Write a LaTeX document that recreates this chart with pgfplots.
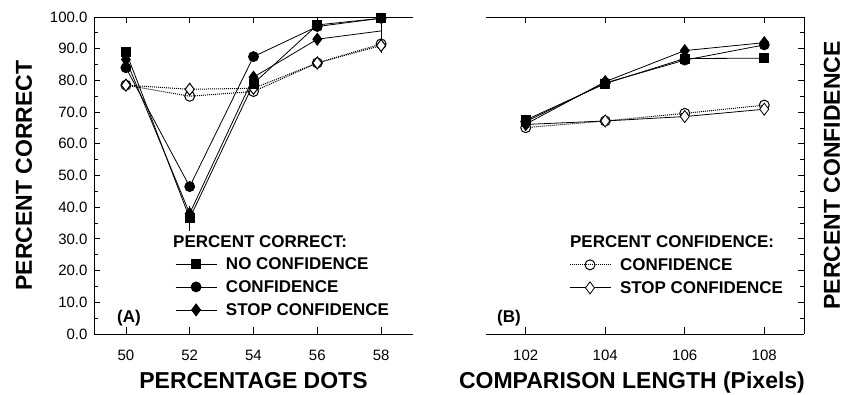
\documentclass[border=0pt]{standalone}
\usepackage{fontspec}
\setmainfont{Liberation Sans}
\usepackage{pgfplots}
\pgfplotsset{compat=1.18}
\begin{document}
\begin{tikzpicture}
\useasboundingbox (0pt,0pt) rectangle (849pt,395pt);
\pgfplotsset{
  common/.style={
    scale only axis, height=317pt,
    ymin=0, ymax=100,
    ytick={0,10,...,100}, minor y tick num=1,
    tick align=inside,
    major tick length=6.5pt, minor tick length=4pt,
    every tick/.style={black, line width=0.8pt},
    axis line style={line width=0.9pt, -},
    x axis line style={-}, y axis line style={-},
    every tick label/.append style={font=\fontsize{15}{15}\selectfont},
    /pgf/number format/assume math mode=true,
    xticklabel style={yshift=-12.5pt},
    label style={font=\bfseries\fontsize{23}{23}\selectfont},
    legend cell align=left,
    legend image code/.code={\draw[mark repeat=2,mark phase=2,##1] plot coordinates {(0pt,0pt)(20.5pt,0pt)(41pt,0pt)};},
    legend style={draw=none, fill=none, inner sep=0pt, outer sep=0pt,
      row sep=11pt, column sep=9pt,
      font=\bfseries\fontsize{17}{17}\selectfont,
      nodes={inner sep=0pt, text height=12pt, text depth=0pt}},
  },
  fs/.style={black, line width=0.8pt, solid, mark options={solid, fill=black}},
  os/.style={black, line width=0.8pt, mark options={solid, fill=white}},
  dots/.style={line width=1pt, dash pattern=on 1pt off 1pt},
}
% ---------------- Panel A ----------------
\begin{axis}[common, at={(94pt,61pt)}, anchor=south west, width=319pt,
  xmin=49, xmax=59, xtick={50,52,...,58},
  axis x line*=box, axis y line*=left,
  yticklabel style={xshift=-3pt, /pgf/number format/.cd, fixed, fixed zerofill, precision=1},
  xlabel={PERCENTAGE DOTS},
  xlabel style={at={(axis description cs:0.5,-0.1735)}, anchor=base},
  ylabel={PERCENT CORRECT},
  ylabel style={at={(axis description cs:-0.1944,0.5)}, anchor=base},
  legend style={at={(rel axis cs:0.2545,0.240)}, anchor=north west},
]
\addplot[os, dots, mark=o, mark size=5pt, forget plot,
  error bars/.cd, y dir=both, y explicit, error mark=none,
  error bar style={solid, line width=0.8pt}]
  coordinates {(50,78.5) +- (0,0) (52,75) +- (0,0) (54,76.5) +- (0,0) (56,85.5) +- (0,2) (58,91.5) +- (0,0)};
\addplot[os, dots, mark=diamond*, mark size=6pt, forget plot]
  coordinates {(50,78.5) (52,77.2) (54,77.5) (56,85.5) (58,91)};
\addplot[fs, mark=square*, mark size=4.5pt, forget plot,
  error bars/.cd, y dir=both, y explicit, error mark=none,
  error bar style={solid, line width=0.8pt}]
  coordinates {(50,89.1) +- (0,0) (52,36.5) +- (0,4) (54,79) +- (0,0) (56,97.5) +- (0,0) (58,99.6) +- (0,11)};
\addplot[fs, mark=*, mark size=5pt, forget plot]
  coordinates {(50,84) (52,46.5) (54,87.5) (56,97) (58,99.6)};
\addplot[fs, mark=diamond*, mark size=6pt, mark indices={1,2,3,4}, forget plot]
  coordinates {(50,86.6) (52,38) (54,81) (56,93) (58,95.6)};
\addlegendimage{fs, mark=square*, mark size=4.5pt}
\addlegendentry{NO CONFIDENCE}
\addlegendimage{fs, mark=*, mark size=5pt}
\addlegendentry{CONFIDENCE}
\addlegendimage{fs, mark=diamond*, mark size=6pt}
\addlegendentry{STOP CONFIDENCE}
\node[anchor=west, font=\bfseries\fontsize{17}{17}\selectfont, inner sep=0pt] at (rel axis cs:0.2476,0.290) {PERCENT CORRECT:};
\node[font=\bfseries\fontsize{17}{17}\selectfont, inner sep=0pt] at (rel axis cs:0.1097,0.0505) {(A)};
\end{axis}
% ---------------- Panel B ----------------
\begin{axis}[common, at={(486pt,61pt)}, anchor=south west, width=318pt,
  xmin=101, xmax=109, xtick={102,104,...,108},
  axis x line*=box, axis y line*=right,
  yticklabels={},
  xlabel={COMPARISON LENGTH (Pixels)},
  xlabel style={at={(axis description cs:0.459,-0.1735)}, anchor=base},
  ylabel={PERCENT CONFIDENCE},
  ylabel style={at={(axis description cs:1.113,0.5)}, anchor=base, rotate=0},
  legend style={at={(rel axis cs:0.261,0.237)}, anchor=north west},
]
\addplot[os, dots, mark=o, mark size=5pt]
  coordinates {(102,65.1) (104,67.2) (106,69.6) (108,72.2)};
\addlegendentry{CONFIDENCE}
\addplot[os, solid, mark=diamond*, mark size=6pt]
  coordinates {(102,66.1) (104,67.2) (106,68.6) (108,70.9)};
\addlegendentry{STOP CONFIDENCE}
\addplot[fs, mark=square*, mark size=4.5pt, forget plot]
  coordinates {(102,67.5) (104,79) (106,86.9) (108,87)};
\addplot[fs, mark=*, mark size=5pt, forget plot]
  coordinates {(102,67) (104,79.2) (106,86.4) (108,91.2)};
\addplot[fs, mark=diamond*, mark size=6pt, forget plot]
  coordinates {(102,66.2) (104,79.6) (106,89.4) (108,91.9)};
\node[anchor=west, font=\bfseries\fontsize{17}{17}\selectfont, inner sep=0pt] at (rel axis cs:0.264,0.290) {PERCENT CONFIDENCE:};
\node[font=\bfseries\fontsize{17}{17}\selectfont, inner sep=0pt] at (rel axis cs:0.0723,0.0505) {(B)};
\end{axis}
\end{tikzpicture}
\end{document}
